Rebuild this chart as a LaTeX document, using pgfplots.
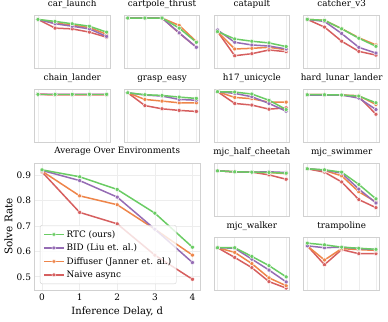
\documentclass[border=0pt]{standalone}
\usepackage{fontspec}
\setmainfont{DejaVu Serif}
\usepackage{pgfplots}
\pgfplotsset{compat=1.18}

\definecolor{cgreen}{HTML}{6ACC64}
\definecolor{cpurple}{HTML}{956CB4}
\definecolor{corange}{HTML}{EE854A}
\definecolor{cred}{HTML}{D65F5F}

\pgfplotsset{
  srs/.style={draw=#1, line width=1.5bp, mark=*, mark size=2bp,
    mark options={draw=white, fill=#1, line width=0.4bp, solid}},
  base/.style={scale only axis, anchor=north west,
    xmin=-0.2, xmax=4.2, xtick={0,1,2,3,4},
    axis line style={draw=black!18, line width=0.9bp},
    grid style={draw=black!7, line width=0.6bp},
    major tick length=0pt,
    /pgf/number format/assume math mode=true,
    title style={font=\fontsize{8.8}{10}\selectfont, at={(0.5,1)},
      anchor=base, yshift=3bp}},
  small/.style={base, width=75.5bp, height=53.5bp, ymin=0, ymax=1,
    xticklabels={}, ytick=\empty, xmajorgrids},
}

% #1 position, #2 title, #3 Naive, #4 Diffuser, #5 BID, #6 RTC
\newcommand{\envplot}[6]{%
\begin{axis}[small, at={(#1)}, title={#2}]
\addplot[srs=cred] coordinates {#3};
\addplot[srs=corange] coordinates {#4};
\addplot[srs=cpurple] coordinates {#5};
\addplot[srs=cgreen] coordinates {#6};
\end{axis}}

\begin{document}
\begin{tikzpicture}
\path[use as bounding box] (0,0) rectangle (388bp,-322bp);

% row 1
\envplot{34.5bp,-15bp}{car\_launch}
 {(0,.918)(1,.755)(2,.74)(3,.68)(4,.585)}
 {(0,.918)(1,.85)(2,.81)(3,.765)(4,.64)}
 {(0,.918)(1,.836)(2,.79)(3,.74)(4,.60)}
 {(0,.918)(1,.88)(2,.836)(3,.79)(4,.68)}
\envplot{124.3bp,-15bp}{cartpole\_thrust}
 {(0,.943)(1,.943)(2,.943)(3,.66)(4,.40)}
 {(0,.943)(1,.943)(2,.943)(3,.805)(4,.503)}
 {(0,.943)(1,.943)(2,.943)(3,.667)(4,.396)}
 {(0,.943)(1,.943)(2,.943)(3,.755)(4,.49)}
\envplot{214.1bp,-15bp}{catapult}
 {(0,.69)(1,.239)(2,.277)(3,.346)(4,.314)}
 {(0,.69)(1,.365)(2,.377)(3,.396)(4,.352)}
 {(0,.72)(1,.49)(2,.44)(3,.42)(4,.365)}
 {(0,.69)(1,.553)(2,.51)(3,.478)(4,.41)}
\envplot{303.9bp,-15bp}{catcher\_v3}
 {(0,.918)(1,.774)(2,.51)(3,.32)(4,.25)}
 {(0,.918)(1,.90)(2,.745)(3,.575)(4,.44)}
 {(0,.918)(1,.88)(2,.654)(3,.396)(4,.289)}
 {(0,.918)(1,.90)(2,.742)(3,.566)(4,.415)}

% row 2
\envplot{34.5bp,-89bp}{chain\_lander}
 {(0,.90)(1,.895)(2,.895)(3,.895)(4,.895)}
 {(0,.90)(1,.893)(2,.893)(3,.893)(4,.893)}
 {(0,.90)(1,.898)(2,.898)(3,.898)(4,.898)}
 {(0,.90)(1,.90)(2,.90)(3,.90)(4,.90)}
\envplot{124.3bp,-89bp}{grasp\_easy}
 {(0,.93)(1,.69)(2,.63)(3,.60)(4,.58)}
 {(0,.93)(1,.805)(2,.774)(3,.742)(4,.742)}
 {(0,.93)(1,.887)(2,.868)(3,.805)(4,.79)}
 {(0,.93)(1,.893)(2,.88)(3,.849)(4,.824)}
\envplot{214.1bp,-89bp}{h17\_unicycle}
 {(0,.95)(1,.73)(2,.70)(3,.623)(4,.648)}
 {(0,.95)(1,.843)(2,.818)(3,.755)(4,.755)}
 {(0,.95)(1,.918)(2,.855)(3,.73)(4,.585)}
 {(0,.95)(1,.943)(2,.906)(3,.79)(4,.616)}
\envplot{303.9bp,-89bp}{hard\_lunar\_lander}
 {(0,.893)(1,.893)(2,.887)(3,.855)(4,.528)}
 {(0,.893)(1,.893)(2,.887)(3,.875)(4,.71)}
 {(0,.887)(1,.887)(2,.887)(3,.83)(4,.616)}
 {(0,.893)(1,.893)(2,.887)(3,.868)(4,.742)}

% rows 3-4, right
\envplot{214.1bp,-163bp}{mjc\_half\_cheetah}
 {(0,.854)(1,.835)(2,.829)(3,.778)(4,.696)}
 {(0,.854)(1,.835)(2,.829)(3,.823)(4,.80)}
 {(0,.854)(1,.835)(2,.829)(3,.835)(4,.823)}
 {(0,.854)(1,.835)(2,.829)(3,.823)(4,.81)}
\envplot{303.9bp,-163bp}{mjc\_swimmer}
 {(0,.892)(1,.829)(2,.646)(3,.316)(4,.165)}
 {(0,.892)(1,.86)(2,.76)(3,.462)(4,.272)}
 {(0,.892)(1,.867)(2,.81)(3,.513)(4,.253)}
 {(0,.892)(1,.873)(2,.829)(3,.60)(4,.33)}
\envplot{214.1bp,-237bp}{mjc\_walker}
 {(0,.80)(1,.618)(2,.427)(3,.166)(4,.045)}
 {(0,.80)(1,.713)(2,.503)(3,.236)(4,.089)}
 {(0,.80)(1,.79)(2,.586)(3,.382)(4,.16)}
 {(0,.80)(1,.80)(2,.637)(3,.465)(4,.255)}
\envplot{303.9bp,-237bp}{trampoline}
 {(0,.834)(1,.483)(2,.764)(3,.688)(4,.688)}
 {(0,.834)(1,.57)(2,.783)(3,.764)(4,.75)}
 {(0,.834)(1,.80)(2,.81)(3,.783)(4,.764)}
 {(0,.885)(1,.854)(2,.81)(3,.79)(4,.77)}

% average
\begin{axis}[base, at={(34.5bp,-163bp)}, width=165.5bp, height=127bp,
  ymin=0.448, ymax=0.947, ytick={0.5,0.6,0.7,0.8,0.9},
  xmajorgrids, ymajorgrids,
  title={Average Over Environments},
  title style={yshift=1bp},
  yticklabel style={/pgf/number format/fixed, /pgf/number format/precision=1,
    /pgf/number format/fixed zerofill},
  tick label style={font=\fontsize{9}{10}\selectfont},
  xlabel={Inference Delay, d}, ylabel={Solve Rate},
  ylabel style={font=\fontsize{10.5}{12}\selectfont,
    at={(axis description cs:-0.158,0.5)}, anchor=center},
  xlabel style={font=\fontsize{10}{12}\selectfont,
    at={(axis description cs:0.5,-0.171)}, anchor=center},
  reverse legend,
  legend cell align=left,
  legend image code/.code={\draw[mark repeat=2,mark phase=2]
    plot coordinates {(0bp,0bp)(10bp,0bp)(20bp,0bp)};},
  legend style={at={(0.033,0.047)}, anchor=south west,
    fill=white, fill opacity=0.8, text opacity=1, draw=black!18,
    rounded corners=2bp, font=\fontsize{8.9}{10}\selectfont,
    row sep=1.3bp, inner sep=3bp},
]
\addplot[srs=cred] coordinates {(0,.912)(1,.753)(2,.708)(3,.585)(4,.49)};
\addplot[srs=corange] coordinates {(0,.915)(1,.818)(2,.783)(3,.687)(4,.585)};
\addplot[srs=cpurple] coordinates {(0,.918)(1,.878)(2,.813)(3,.687)(4,.556)};
\addplot[srs=cgreen] coordinates {(0,.92)(1,.893)(2,.843)(3,.75)(4,.616)};
\legend{Naive async, Diffuser (Janner et. al.), BID (Liu et. al.), RTC (ours)}
\end{axis}
\end{tikzpicture}
\end{document}
